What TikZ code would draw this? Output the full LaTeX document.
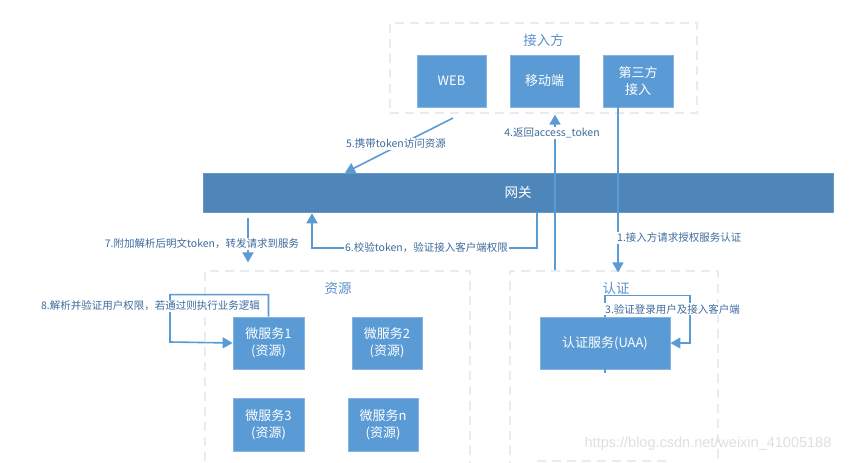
\documentclass[tikz,border=0pt]{standalone}
\usepackage{fontspec}
\setmainfont{Noto Sans CJK SC}
\newfontfamily\wmfont{Liberation Sans}
\usetikzlibrary{arrows.meta,calc}
\definecolor{boxblue}{HTML}{5B9BD5}
\definecolor{boxedge}{HTML}{86B4E0}
\definecolor{gwblue}{HTML}{4E86B9}
\definecolor{lineblue}{HTML}{5B9BD5}
\definecolor{labelblue}{HTML}{3E6B9E}
\definecolor{dashc}{HTML}{E6ECF4}
\definecolor{titlec}{HTML}{5B8FC9}
\tikzset{
  sbox/.style={fill=boxblue,draw=boxedge,line width=0.8pt,inner sep=0pt,text=white,align=center,
    font=\fontsize{13}{17}\selectfont},
  cont/.style={draw=dashc,line width=1.2pt,dash pattern=on 9pt off 6pt,inner sep=0pt},
  ctitle/.style={text=titlec,font=\fontsize{13.5}{16}\selectfont,inner sep=0pt},
  arr/.style={draw=lineblue,line width=1.6pt,-{Triangle[length=10pt,width=11pt]}},
  plain/.style={draw=lineblue,line width=1.6pt},
  lbl/.style={fill=white,text=labelblue,inner sep=1pt,font=\fontsize{10.5}{12}\selectfont}
}
\begin{document}
\begin{tikzpicture}[x=1pt,y=-1pt]
\useasboundingbox (0,0) rectangle (854,463);
% containers
\node[cont,minimum width=307pt,minimum height=90pt] (jr) at (543.5,68) {};
\node[ctitle] (jrt) at (543.5,40) {接入方};
\node[cont,minimum width=265pt,minimum height=204pt] (res) at (337.5,373) {};
\node[ctitle] (rest) at (338,288) {资源};
\node[cont,minimum width=208pt,minimum height=204pt] (auth) at (614,373) {};
\node[ctitle] (autht) at (616,288) {认证};
\coordinate (ib1) at (537,461);
\coordinate (ib2) at (669,461);
\draw[draw=dashc,line width=1.2pt,dash pattern=on 9pt off 6pt] (ib1) -- (ib2);
% boxes
\node[sbox,minimum width=69pt,minimum height=52pt] (web) at (451.5,81) {WEB};
\node[sbox,minimum width=69pt,minimum height=52pt] (mob) at (544.5,81) {移动端};
\node[sbox,minimum width=70pt,minimum height=52pt] (third) at (638,81) {第三方\\接入};
\node[fill=gwblue,draw=gwblue!85!white,line width=0.6pt,minimum width=630pt,minimum height=39pt,inner sep=0pt,text=white,font=\fontsize{13.5}{16}\selectfont] (gw) at (518,192.5) {网关};
\node[sbox,minimum width=71pt,minimum height=52pt] (ms1) at (268.5,343) {微服务1\\(资源)};
\node[sbox,minimum width=70pt,minimum height=52pt] (ms2) at (387,343) {微服务2\\(资源)};
\node[sbox,minimum width=71pt,minimum height=53pt] (ms3) at (268.5,424.5) {微服务3\\(资源)};
\node[sbox,minimum width=70pt,minimum height=53pt] (msn) at (383,424.5) {微服务n\\(资源)};
\node[sbox,minimum width=130pt,minimum height=52pt] (uaa) at (605,343) {认证服务(UAA)};
% helper coordinates
\coordinate (x618) at (618,0);
\coordinate (x555) at (555,0);
\coordinate (x537) at (537,0);
\coordinate (x312) at (312,0);
\coordinate (x345) at (345,0);
\coordinate (x248) at (248,0);
\coordinate (s5) at (453,118);
\coordinate (y248) at (0,248);
\coordinate (l8) at (170,342);
\coordinate (r3) at (690,343);
% 1
\draw[arr] (third.south -| x618) -- ($(auth.north -| x618)+(0,2)$);
% 4
\draw[arr] (auth.north -| x555) -- ($(jr.south -| x555)+(0,1)$);
% 5
\draw[arr] (s5) -- (gw.north -| x345);
% 6
\draw[arr] (gw.south -| x537) -- (x537 |- y248) -- (x312 |- y248) -- ($(gw.south -| x312)+(0,1)$);
% 7
\draw[arr] ($(gw.south -| x248)+(0,6)$) -- ($(res.north -| x248)+(0,-8)$);
% 8
\draw[arr] (ms1.north) -- ++(0,-22) -| (l8) -- (ms1.west);
% 3
\draw[arr] (uaa.north) -- ++(0,-21) -| (r3) -- (uaa.east);
\draw[plain] (uaa.south) -- ++(0,4);
% labels
\node[lbl] (t1) [anchor=west] at (616,238) {1.接入方请求授权服务认证};
\node[lbl] (t3) [anchor=west] at (604,309) {3.验证登录用户及接入客户端};
\node[lbl] (t4) at (552,133) {4.返回access\_token};
\node[lbl] (t5) at (396,144) {5.携带token访问资源};
\node[lbl] (t6) at (426.5,248) {6.校验token，验证接入客户端权限};
\node[lbl] (t7) at (202,244) {7.附加解析后明文token，转发请求到服务};
\node[lbl] (t8) at (150.5,306) {8.解析并验证用户权限，若通过则执行业务逻辑};
% watermark
\node[text=gray!25,font=\wmfont\fontsize{14.5}{16}\selectfont,inner sep=0pt] (wm) at (708,444) {https://blog.csdn.net/weixin\_41005188};
\end{tikzpicture}
\end{document}
